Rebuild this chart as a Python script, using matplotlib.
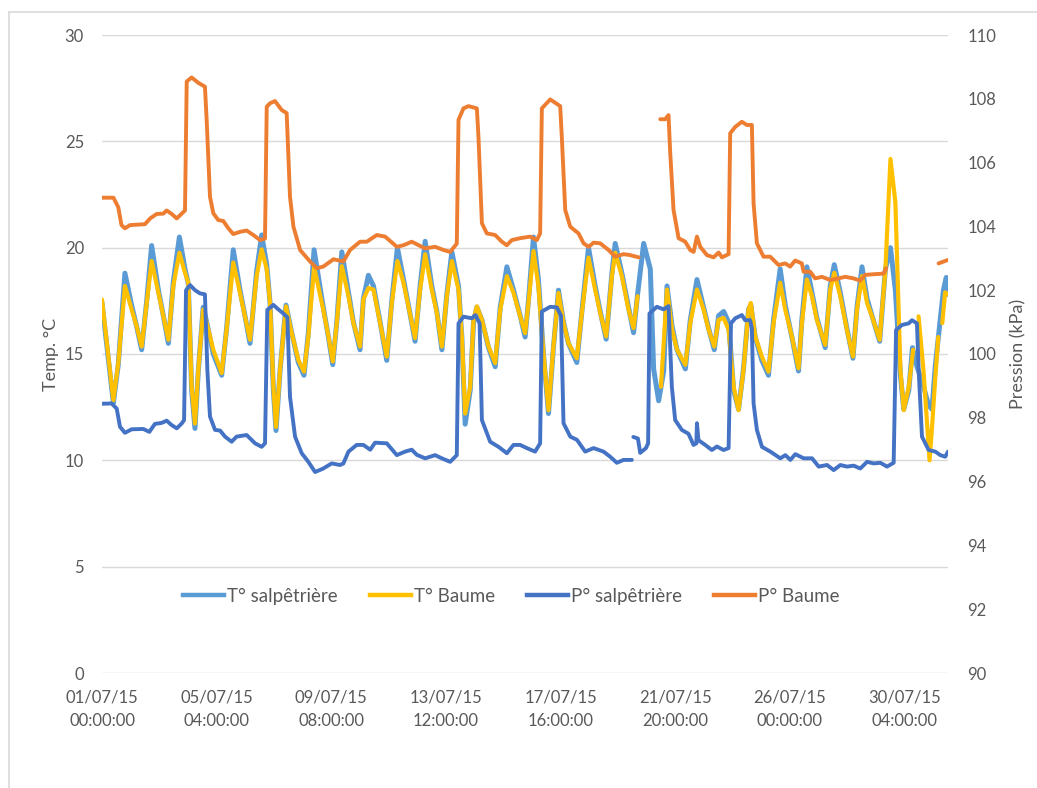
import numpy as np
import matplotlib
matplotlib.use("Agg")
import matplotlib.pyplot as plt
from matplotlib.lines import Line2D

nan = np.nan

# ---- data (hours since 01/07/15 00:00) ----
t_salp_h = [0, 5.5, 9.9, 14.2, 20, 25.8, 30.2, 34.6, 39, 43.3, 49.2, 53.5, 57.9, 62.2, 67.5, 72.4, 75.3,
            78.2, 81.1, 84, 88.3, 91.3, 97.1, 104.4, 108.7, 114.5, 120.4, 124.7, 129.1, 134.9, 139.3,
            143.7, 146.6, 149.5, 151.8, 155.3, 160.5, 165.5, 171.3, 176.2, 180, 185, 193, 197.5, 201.3,
            204.8, 209.2, 215, 219.3, 225.1, 228, 232.4, 236.8, 242.6, 248.4, 252.8, 257.7, 263, 267.3,
            273.1, 277.5, 281.9, 287.7, 292.1, 296.5, 300.8, 305.2, 311, 313.9, 316.8, 321.2, 324.1, 327,
            331.4, 337.2, 343, 347.4, 353.2, 359, 364.8, 369.1, 372, 376.4, 380.7, 385.1, 389.5, 393.8,
            398.2, 402.6, 406.9, 414.2, 418.6, 424.4, 430.2, 434.6, 439.8, 444.8, 447.7, 453.5, 459.3,
            463.7, 467.2, 472.5, 478.3, 481.2, 485.6, 490, 492.9, 497.3, 501.6, 508.9, 513.2, 519, 524.8,
            529.2, 534.1, 537.9, 542.3, 546.6, 551, 555.3, 559.6, 564, 566, 569.8, 575.6, 581.4, 585.8,
            591.6, 596, 601.8, 607.6, 610.5, 614.9, 619.3, 623.6, 630.9, 635.3, 638.8, 644, 649.8, 655.1,
            658.6, 663, 667.4, 671.7, 678.4, 683.4, 687.8, 692.1, 696.5, 699.4, 703.8, 707, 711, 716, 721,
            724, 727, 731, 734, 736.5, 738]
t_salp = [17.4, 14.8, 12.7, 14.5, 18.8, 17.3, 16.3, 15.2, 17.5, 20.1, 18.0, 16.8, 15.5, 18.4, 20.5, 19.0, 18.3,
          13.3, 11.5, 14.2, 17.2, 16.5, 15.0, 14.0, 16.2, 19.9, 18.0, 16.8, 15.5, 18.9, 20.6,
          19.2, 17.4, 13.3, 11.4, 14.2, 17.3, 16.0, 14.6, 14.0, 16.0, 19.9, 17.2, 15.8, 14.5,
          16.5, 19.8, 17.9, 16.5, 15.2, 17.6, 18.7, 18.2, 16.5, 14.7, 17.5, 20.0, 18.5, 17.3,
          15.6, 18.2, 20.3, 18.2, 17.0, 15.2, 17.8, 19.8, 18.2, 15.8, 11.7, 13.3, 16.5, 17.2,
          16.6, 15.3, 14.4, 17.2, 19.1, 18.0, 16.8, 15.8, 17.5, 20.5, 18.5, 15.0, 12.2, 15.3,
          18.0, 16.5, 15.5, 14.6, 17.0, 20.0, 18.2, 17.0, 15.7, 18.8, 20.2, 18.8, 17.2,
          16.0, 17.8, 20.2, 19.0, 14.3, 12.8, 14.2, 18.2, 16.3, 15.2, 14.3, 16.6, 18.5, 17.2,
          16.2, 15.2, 16.8, 17.0, 16.5, 13.3, 12.4, 14.3, 17.1, 17.3, 15.8, 14.7, 14.0, 16.6,
          19.0, 17.3, 15.8, 14.2, 16.6, 19.1, 17.9, 16.7, 15.3, 18.2, 19.2, 17.9, 16.2, 14.8,
          17.2, 19.1, 17.6, 16.8, 15.6, 19.0, 20.0, 18.0, 14.0, 12.4, 13.3, 15.3, 14.4, 13.6, 12.6,
          12.4, 14.5, 16.5, 18.0, 18.6, 17.8]

t_baume_h = [0, 5.5, 9.9, 14.2, 20, 25.8, 30.2, 34.6, 39, 43.3, 49.2, 53.5, 57.9, 62.2, 67.5, 72.4, 75.3,
             78.2, 81.1, 84, 88.3, 91.3, 97.1, 104.4, 108.7, 114.5, 120.4, 124.7, 129.1, 134.9, 139.3,
             143.7, 146.6, 149.5, 151.8, 155.3, 160.5, 165.5, 171.3, 176.2, 180, 185, 193, 197.5, 201.3,
             204.8, 209.2, 215, 219.3, 225.1, 228, 232.4, 236.8, 242.6, 248.4, 252.8, 257.7, 263, 267.3,
             273.1, 277.5, 281.9, 287.7, 292.1, 296.5, 300.8, 305.2, 311, 313.9, 316.8, 321.2, 324.1, 327,
             331.4, 337.2, 343, 347.4, 353.2, 359, 364.8, 369.1, 372, 376.4, 380.7, 385.1, 389.5, 393.8,
             398.2, 402.6, 406.9, 414.2, 418.6, 424.4, 430.2, 434.6, 439.8, 444.8, 447.7, 453.5, 459.3,
             463.7, 467.2, 477, 487.6, 492.9, 497.3, 501.6, 508.9, 513.2, 519, 524.8, 529.2, 534.1, 537.9,
             542.3, 546.6, 551, 555.3, 559.6, 564, 566, 569.8, 575.6, 581.4, 585.8, 591.6, 596, 601.8,
             607.6, 610.5, 614.9, 619.3, 623.6, 630.9, 635.3, 638.8, 644, 649.8, 655.1, 658.6, 663, 667.4,
             671.7, 678.4, 683.4, 687.8, 692.1, 696.5, 699.4, 703.8, 707.6, 710, 712.3, 716.6, 719.5, 721.9,
             724, 726.8, 729.5, 731.5, 733, 735.5, 738]
t_baume = [17.56, 14.9, 12.83, 14.57, 18.2, 17.1, 16.3, 15.35, 17.4, 19.37, 17.87, 16.77, 15.67, 18.2, 19.76,
           18.82, 18.35, 13.46, 11.73, 14.25, 17.09, 16.46, 15.2, 14.1, 16.14, 19.3, 17.87, 16.77, 15.67,
           18.66, 19.92, 18.98, 17.4, 13.46, 11.57, 14.25, 17.24, 15.98, 14.72, 14.17, 15.83, 19.1, 17.09,
           15.83, 14.65, 16.46, 19.13, 17.72, 16.46, 15.35, 17.56, 18.1, 18.03, 16.46, 14.88, 17.4, 19.37,
           18.35, 17.24, 15.75, 18.03, 19.69, 18.03, 16.93, 15.35, 17.72, 19.37, 18.03, 15.83, 12.2, 13.46,
           16.61, 17.24, 16.61, 15.35, 14.57, 17.09, 18.66, 17.87, 16.77, 15.98, 17.4, 19.84, 18.19, 15.04,
           12.36, 15.35, 17.87, 16.46, 15.51, 14.8, 16.93, 19.53, 18.03, 16.93, 15.83, 18.66, 19.76, 18.66,
           17.09, 16.22, 17.72, nan, 13.46, 18.03, 16.14, 15.2, 14.49, 16.46, 18.03, 17.09, 16.14, 15.35,
           16.61, 16.69, 16.14, 13.46, 12.36, 14.25, 17.09, 17.4, 15.83, 14.88, 14.17, 16.46, 18.35, 17.09,
           15.83, 14.33, 16.46, 18.5, 17.72, 16.61, 15.43, 18.03, 18.82, 17.72, 16.14, 14.88, 17.09, 18.66,
           17.4, 16.77, 15.67, 18.98, 24.17, 22.13, 14.25, 12.36, 13.46, 15.2, nan, 16.77, 14.25, 11.9, 10.0,
           11.5, 13.8, 15.8, nan, 16.45, 17.9, 17.8]

p_salp_h = [0, 8.4, 12.8, 15.7, 20, 25.9, 36, 41.3, 46.2, 52, 56.4, 60.8, 65.2, 69.5, 71.6, 73.3, 76.8, 81.2,
            85.5, 89.8, 91.9, 94.2, 98.6, 103, 107.3, 113.1, 117.4, 126.2, 133.5, 139.3, 142.2, 144.2, 149.4,
            153.8, 158.2, 161.7, 164, 168.4, 174.2, 180, 185.9, 193, 200.4, 207.7, 210.6, 215, 222.2, 228,
            234, 238.2, 248.4, 257.2, 264.4, 270.2, 274.6, 281.9, 290.6, 296.4, 303.7, 309.5, 311, 315.3,
            322.6, 325.6, 329.4, 331.4, 338.6, 345.9, 353.2, 359, 364.7, 370.6, 377.8, 382.2, 383.7, 391,
            396.8, 400.4, 402.6, 408.5, 414.3, 421.5, 428.8, 437.5, 443.3, 449.1, 455, 462.2, 462.8, 463.5,
            467.5, 469.5, 474.5, 476.4, 477.6, 484, 489.9, 494.2, 497.1, 500, 505.8, 511.6, 516, 518.5, 519,
            520.3, 526.2, 532, 536.4, 542.2, 546.6, 548.7, 552.4, 558.2, 561, 565.4, 566.9, 568.4, 571.3,
            575.7, 583, 591.7, 596.1, 600.5, 604.8, 612.1, 619.4, 625.2, 632.5, 638.3, 644.1, 649.9, 655.7,
            661.5, 667.4, 673.2, 679, 684.8, 690.6, 692.7, 697.8, 703.7, 706.6, 710.9, 712.4, 715.3, 721.1,
            726.9, 731.3, 735.6, 738]
p_salp = [98.44, 98.45, 98.29, 97.72, 97.53, 97.64, 97.65, 97.56, 97.81, 97.84, 97.91, 97.77, 97.67, 97.82,
          97.93, 102.0, 102.16, 102.0, 101.9, 101.87, 99.5, 98.04, 97.62, 97.6, 97.41, 97.25, 97.41, 97.46,
          97.2, 97.09, 97.2, 101.38, 101.54, 101.4, 101.27, 101.15, 98.66, 97.41, 96.89, 96.62, 96.3, 96.41,
          96.57, 96.52, 96.57, 96.94, 97.15, 97.15, 97.0, 97.22, 97.2, 96.83, 96.94, 97.0, 96.84, 96.73,
          96.83, 96.73, 96.62, 96.83, 100.96, 101.17, 101.12, 101.22, 100.96, 97.93, 97.25, 97.09, 96.89,
          97.15, 97.15, 97.05, 96.94, 97.2, 101.33, 101.48, 101.46, 101.2, 97.83, 97.41, 97.31, 96.94, 97.05,
          96.94, 96.78, 96.59, 96.68, 96.68, nan, 97.4, 97.35, 96.9, 97.05, 97.2, 101.27, 101.48, 101.4,
          101.5, 98.97, 97.93, 97.62, 97.5, 97.15, 97.2, 97.83, 97.3, 97.15, 96.99, 97.1, 96.99, 97.05,
          100.96, 101.12, 101.22, 101.06, 101.06, 100.8, 98.45, 97.62, 97.09, 96.94, 96.73, 96.83, 96.68,
          96.86, 96.73, 96.73, 96.47, 96.52, 96.36, 96.52, 96.47, 96.5, 96.41, 96.62, 96.57, 96.59, 96.47,
          96.59, 100.75, 100.91, 100.96, 101.06, 100.96, 99.5, 97.41, 96.99, 96.94, 96.83, 96.78, 96.94]

p_baume_h = [0, 10, 14.2, 17, 20, 24.4, 37.5, 42, 47.7, 53.5, 56.4, 60.8, 65.2, 69.5, 72.4, 73.9, 78.2, 84,
             89.8, 91.3, 94.2, 97.1, 101.4, 105.8, 110.2, 114.5, 120.4, 126.2, 132, 137.9, 142.2, 143.7,
             146.6, 150.9, 156.7, 161.1, 164, 167, 172.8, 181.5, 187.3, 193, 201.9, 210.6, 216.4, 225.1,
             231, 239.7, 247, 257.2, 263, 270.2, 281.9, 290.6, 297.9, 303.7, 309.5, 311, 315.3, 319.7, 327,
             328.4, 331.4, 335.7, 343, 348.8, 353.1, 357.5, 364.7, 373.5, 379.3, 382.2, 383.7, 391, 399.7,
             401.1, 404.1, 408.5, 415.7, 420.1, 424.5, 428.8, 434.6, 441.9, 447.7, 455, 460.8, 468.1, 477,
             487, 491.3, 494.2, 495.7, 498.6, 503, 508.8, 513.1, 516.1, 519, 521.9, 527.7, 533.5, 537.9,
             540.8, 546.6, 548, 552.4, 558.2, 562.5, 566.9, 568.4, 571.3, 577.1, 582.9, 590.2, 596, 600.3,
             604.7, 610.5, 612, 617.8, 622.1, 628, 635.2, 642.5, 648.3, 655.6, 661.4, 665.8, 673, 681.8,
             684.1, 700, 729.8, 738]
p_baume = [104.9, 104.9, 104.6, 104.04, 103.94, 104.04, 104.07, 104.25, 104.39, 104.4, 104.5, 104.39, 104.25,
           104.4, 104.5, 108.54, 108.67, 108.5, 108.38, 107.34, 104.93, 104.41, 104.2, 104.17, 103.94, 103.76,
           103.83, 103.87, 103.73, 103.57, 103.62, 107.75, 107.86, 107.93, 107.65, 107.55, 104.93, 103.99,
           103.26, 102.9, 102.69, 102.74, 102.97, 102.9, 103.26, 103.52, 103.52, 103.73, 103.68, 103.36,
           103.41, 103.52, 103.31, 103.36, 103.26, 103.2, 103.46, 107.34, 107.7, 107.77, 107.7, 106.81,
           104.1, 103.78, 103.73, 103.52, 103.41, 103.57, 103.63, 103.68, 103.57, 103.78, 107.7, 107.98,
           107.77, 106.81, 104.51, 103.99, 103.78, 103.47, 103.36, 103.49, 103.47, 103.26, 103.05, 103.13,
           103.1, 103.03, nan, 107.36, 107.36, 107.49, 106.29, 104.51, 103.63, 103.52, 103.26, 103.2, 103.68,
           103.36, 103.1, 103.03, 103.18, 103.03, 103.13, 106.92, 107.12, 107.28, 107.18, 107.18, 104.72,
           103.47, 103.05, 103.05, 102.79, 102.84, 102.74, 102.93, 102.84, 102.58, 102.58, 102.37, 102.42,
           102.32, 102.37, 102.42, 102.37, 102.3, 102.48, 102.5, 102.52, 102.69, nan, 102.84, 102.95]

tick_hours = [0, 100, 200, 300, 400, 500, 600, 700]
tick_labels = ["01/07/15\n00:00:00", "05/07/15\n04:00:00", "09/07/15\n08:00:00", "13/07/15\n12:00:00",
               "17/07/15\n16:00:00", "21/07/15\n20:00:00", "26/07/15\n00:00:00", "30/07/15\n04:00:00"]

series_names = ["T° salpêtrière", "T° Baume", "P° salpêtrière", "P° Baume"]
colors = ["#5B9BD5", "#FFC000", "#4472C4", "#ED7D31"]

plt.rcParams['font.family'] = ['Lato', 'DejaVu Sans']
TXT = "#595959"
GRID = "#D9D9D9"

fig = plt.figure(figsize=(10.37, 7.88), dpi=100)
ax = fig.add_axes([102/1037, 1 - 673/788, (948 - 102)/1037, (673 - 35)/788])
ax2 = ax.twinx()

kw = dict(solid_joinstyle='round', solid_capstyle='round')
ax.plot(t_salp_h, t_salp, color=colors[0], lw=3.6, **kw)
ax.plot(t_baume_h, t_baume, color=colors[1], lw=3.0, **kw)
ax2.plot(p_salp_h, p_salp, color=colors[2], lw=2.8, **kw)
ax2.plot(p_baume_h, p_baume, color=colors[3], lw=2.8, **kw)

ax.set_xlim(0, 738)
ax.set_ylim(0, 30)
ax2.set_ylim(90, 110)
ax.set_yticks(np.arange(0, 31, 5))
ax2.set_yticks(np.arange(90, 111, 2))
ax.set_xticks(tick_hours)
ax.set_xticklabels(tick_labels)

ax.grid(axis='y', color=GRID, lw=1.0)
ax.set_axisbelow(True)
for a in (ax, ax2):
    for s in a.spines.values():
        s.set_visible(False)
    a.tick_params(length=0, colors=TXT, labelsize=12)
ax.tick_params(axis='y', pad=13)
ax2.tick_params(axis='y', pad=14)
ax.tick_params(axis='x', pad=12)
for lbl in ax.get_xticklabels():
    lbl.set_linespacing(1.55)

ax.set_ylabel("Temp. °C", color=TXT, fontsize=13, labelpad=4)
ax2.set_ylabel("Pression (kPa)", color=TXT, fontsize=13, labelpad=10)

handles = [Line2D([], [], color=c, lw=3.2) for c in colors]
fig.legend(handles, series_names, loc='center', bbox_to_anchor=(511/1037, 1 - 596/788), ncol=4,
           frameon=False, fontsize=13.5, handlelength=2.2, handletextpad=0.15, columnspacing=1.7,
           labelcolor=TXT)

# outer chart border (top and left edges visible)
fig.add_artist(Line2D([9/1037, 1], [1 - 12/788, 1 - 12/788], transform=fig.transFigure, color=GRID, lw=1.2))
fig.add_artist(Line2D([9/1037, 9/1037], [0, 1 - 12/788], transform=fig.transFigure, color=GRID, lw=1.2))

fig.savefig("out.png", dpi=100)
